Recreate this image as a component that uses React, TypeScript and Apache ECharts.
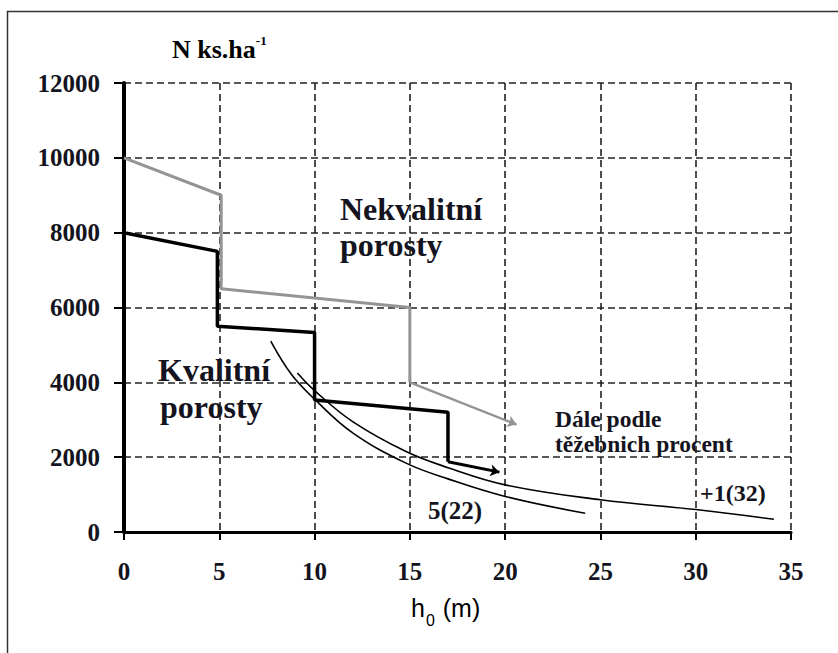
import React, { useEffect, useRef } from 'react';
import * as echarts from 'echarts';

// Axis ranges / ticks
const xMin = 0;
const xMax = 35;
const xStep = 5;
const yMin = 0;
const yMax = 12000;
const yStep = 2000;

// Nekvalitní porosty (grey stepped line) and its arrow tip
const nekvalitniSteps: number[][] = [
  [0, 10000], [5.1, 9000], [5.1, 6500], [15, 6000], [15, 4000],
];
const nekvalitniArrowTip: number[] = [20.6, 2870];

// Kvalitní porosty (black stepped line) and its arrow tip
const kvalitniSteps: number[][] = [
  [0, 8000], [4.9, 7500], [4.9, 5500], [10, 5330], [10, 3530], [17, 3200], [17, 1880],
];
const kvalitniArrowTip: number[] = [19.7, 1600];

// Thin curves
const curve522: number[][] = [
  [7.7, 5100], [8.8, 4200], [10, 3550], [12, 2650], [14.8, 1840], [17, 1420], [20, 950], [24.2, 500],
];
const curve132: number[][] = [
  [9.1, 4250], [10, 3780], [12, 2950], [14.8, 2150], [17, 1720], [20, 1260], [25, 860], [30, 600], [34.1, 340],
];

const SERIF = "'Liberation Serif', 'Times New Roman', serif";
const SANS = "'Liberation Sans', Arial, sans-serif";
const TXT = '#141420';
const GREY = '#949494';

export default function App() {
  const ref = useRef<HTMLDivElement>(null);
  useEffect(() => {
    document.body.style.margin = '0';
    if (!ref.current) return;
    const chart = echarts.init(ref.current, null, { renderer: 'svg' });
    const boldText = (size: number) => ({
      fontFamily: SERIF, fontWeight: 'bold', fontSize: size, fill: TXT,
    });
    const option: any = {
      animation: false,
      backgroundColor: '#fff',
      grid: { left: 124, right: 47, top: 83, bottom: 121 },
      xAxis: {
        type: 'value', min: xMin, max: xMax, interval: xStep,
        axisLine: { show: true, onZero: false, lineStyle: { color: '#000', width: 3 } },
        axisTick: { show: true, length: 8, lineStyle: { color: '#000', width: 2 } },
        axisLabel: {
          fontFamily: SERIF, fontWeight: 'bold', fontSize: 25, color: TXT, margin: 27,
          formatter: (v: number) => String(v),
        },
        splitLine: { show: true, lineStyle: { color: '#222', width: 1.6, type: [7, 4] } },
      },
      yAxis: {
        type: 'value', min: yMin, max: yMax, interval: yStep,
        axisLine: { show: true, onZero: false, lineStyle: { color: '#000', width: 4 } },
        axisTick: { show: true, length: 10, lineStyle: { color: '#000', width: 2 } },
        axisLabel: {
          fontFamily: SERIF, fontWeight: 'bold', fontSize: 25, color: TXT, margin: 24,
          formatter: (v: number) => String(v),
        },
        splitLine: { show: true, lineStyle: { color: '#222', width: 1.6, type: [7, 4] } },
      },
      series: [
        {
          type: 'line', data: nekvalitniSteps, symbol: 'none',
          lineStyle: { color: GREY, width: 3 }, z: 3,
        },
        {
          type: 'lines', coordinateSystem: 'cartesian2d',
          symbol: ['none', 'arrow'], symbolSize: 9,
          lineStyle: { color: GREY, width: 2.5, opacity: 1 },
          data: [{ coords: [nekvalitniSteps[nekvalitniSteps.length - 1], nekvalitniArrowTip] }],
          z: 3,
        },
        {
          type: 'line', data: kvalitniSteps, symbol: 'none',
          lineStyle: { color: '#000', width: 3.5 }, z: 4,
        },
        {
          type: 'lines', coordinateSystem: 'cartesian2d',
          symbol: ['none', 'arrow'], symbolSize: 9,
          lineStyle: { color: '#000', width: 3, opacity: 1 },
          data: [{ coords: [kvalitniSteps[kvalitniSteps.length - 1], kvalitniArrowTip] }],
          z: 4,
        },
        {
          type: 'line', data: curve522, symbol: 'none', smooth: 0.4,
          lineStyle: { color: '#000', width: 1.6 }, z: 5,
        },
        {
          type: 'line', data: curve132, symbol: 'none', smooth: 0.4,
          lineStyle: { color: '#000', width: 1.6 }, z: 5,
        },
      ],
      graphic: [
        {
          type: 'rect', shape: { x: 7.5, y: 11.5, width: 1000, height: 1000 },
          style: { fill: 'none', stroke: '#333', lineWidth: 1.5 }, silent: true,
        },
        {
          type: 'text', x: 172, y: 48,
          style: {
            text: '{a|N ks.ha}{s|-1}',
            verticalAlign: 'middle',
            rich: {
              a: { fontFamily: SERIF, fontWeight: 'bold', fontSize: 26, color: TXT, lineHeight: 28, verticalAlign: 'bottom' },
              s: { fontFamily: SERIF, fontWeight: 'bold', fontSize: 13, color: TXT, lineHeight: 14, verticalAlign: 'top' },
            },
          },
        },
        { type: 'text', x: 340, y: 209, style: { ...boldText(32), text: 'Nekvalitní', verticalAlign: 'middle' } },
        { type: 'text', x: 340, y: 245, style: { ...boldText(32), text: 'porosty', verticalAlign: 'middle' } },
        { type: 'text', x: 158, y: 370, style: { ...boldText(32), text: 'Kvalitní', verticalAlign: 'middle' } },
        { type: 'text', x: 160, y: 407, style: { ...boldText(32), text: 'porosty', verticalAlign: 'middle' } },
        { type: 'text', x: 555, y: 419, style: { ...boldText(23.5), text: 'Dále podle', verticalAlign: 'middle' } },
        { type: 'text', x: 555, y: 444, style: { ...boldText(23.5), text: 'těžebnich procent', verticalAlign: 'middle' } },
        { type: 'text', x: 428, y: 510, style: { ...boldText(25), text: '5(22)', verticalAlign: 'middle' } },
        { type: 'text', x: 700, y: 493, style: { ...boldText(24), text: '+1(32)', verticalAlign: 'middle' } },
        {
          type: 'text', x: 411, y: 608,
          style: {
            text: '{h|h}{s|0}{h| (m)}',
            verticalAlign: 'middle',
            rich: {
              h: { fontFamily: SANS, fontSize: 25, color: TXT, lineHeight: 26 },
              s: { fontFamily: SANS, fontSize: 16, color: TXT, padding: [24, 1, 0, 1] },
            },
          },
        },
      ],
    };
    chart.setOption(option);
    return () => chart.dispose();
  }, []);
  return <div ref={ref} style={{ width: 838, height: 653 }} />;
}
